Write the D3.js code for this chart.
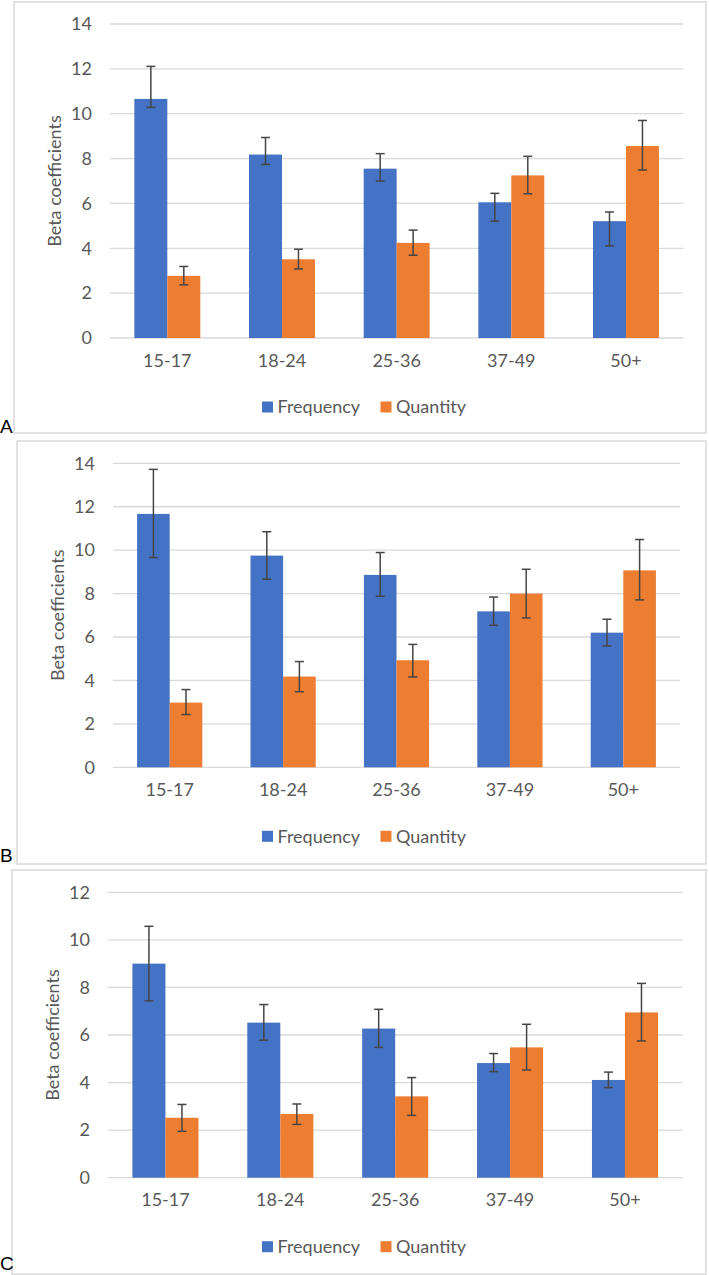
<!DOCTYPE html>
<html>
<head>
<meta charset="utf-8">
<script src="https://cdn.jsdelivr.net/npm/d3@7"></script>
<style>
  body { margin: 0; background: #fff; }
  svg { display: block; }
</style>
</head>
<body>
<script>
// categories and series names
var categories = ["15-17", "18-24", "25-36", "37-49", "50+"];
var seriesNames = ["Frequency", "Quantity"];

// y tick labels
var ticksAB = [0, 2, 4, 6, 8, 10, 12, 14];
var ticksC = [0, 2, 4, 6, 8, 10, 12];

// panel A values and error bar ends
var aFreq     = [10.66, 8.18, 7.55, 6.05, 5.21];
var aFreqLow  = [10.28, 7.74, 7.00, 5.21, 4.11];
var aFreqHigh = [12.11, 8.94, 8.22, 6.45, 5.62];
var aQty      = [2.77, 3.51, 4.24, 7.25, 8.56];
var aQtyLow   = [2.37, 3.08, 3.69, 6.43, 7.49];
var aQtyHigh  = [3.19, 3.96, 4.81, 8.10, 9.70];

// panel B
var bFreq     = [11.67, 9.75, 8.86, 7.18, 6.20];
var bFreqLow  = [9.66, 8.66, 7.88, 6.54, 5.59];
var bFreqHigh = [13.72, 10.85, 9.89, 7.84, 6.82];
var bQty      = [2.98, 4.18, 4.93, 8.00, 9.07];
var bQtyLow   = [2.43, 3.48, 4.16, 6.88, 7.71];
var bQtyHigh  = [3.58, 4.87, 5.66, 9.12, 10.49];

// panel C
var cFreq     = [9.00, 6.52, 6.27, 4.82, 4.11];
var cFreqLow  = [7.44, 5.78, 5.48, 4.46, 3.79];
var cFreqHigh = [10.57, 7.28, 7.08, 5.22, 4.44];
var cQty      = [2.52, 2.68, 3.42, 5.48, 6.95];
var cQtyLow   = [1.95, 2.24, 2.62, 4.53, 5.75];
var cQtyHigh  = [3.08, 3.10, 4.21, 6.45, 8.17];

var colors = {Frequency: "#4472C4", Quantity: "#ED7D31"};
var textColor = "#595959";
var font = "Lato, 'Open Sans', sans-serif";
var fontSize = 18;

// layout of each panel (box, plot area, label)
var panels = [
  {letter: "A", box: [14, 2, 706, 433], plot: [110, 24, 683.3, 338], ticks: ticksAB, letterY: 433,
   freq: aFreq, freqLow: aFreqLow, freqHigh: aFreqHigh, qty: aQty, qtyLow: aQtyLow, qtyHigh: aQtyHigh},
  {letter: "B", box: [17, 441, 706, 864], plot: [113, 463.3, 680, 767.3], ticks: ticksAB, letterY: 862,
   freq: bFreq, freqLow: bFreqLow, freqHigh: bFreqHigh, qty: bQty, qtyLow: bQtyLow, qtyHigh: bQtyHigh},
  {letter: "C", box: [12, 870, 706, 1274], plot: [108, 892.3, 682.4, 1177.7], ticks: ticksC, letterY: 1270,
   freq: cFreq, freqLow: cFreqLow, freqHigh: cFreqHigh, qty: cQty, qtyLow: cQtyLow, qtyHigh: cQtyHigh}
];

var svg = d3.select("body").append("svg")
    .attr("width", 709)
    .attr("height", 1275);

panels.forEach(function(p) {
  var left = p.plot[0], top = p.plot[1], right = p.plot[2], bottom = p.plot[3];
  var g = svg.append("g");

  // panel frame
  g.append("rect")
      .attr("x", p.box[0]).attr("y", p.box[1])
      .attr("width", p.box[2] - p.box[0]).attr("height", p.box[3] - p.box[1])
      .attr("fill", "none").attr("stroke", "#d9d9d9").attr("stroke-width", 1.5);

  // panel letter
  g.append("text")
      .attr("x", 0).attr("y", p.letterY)
      .attr("font-family", "'Liberation Sans', Arial, sans-serif")
      .attr("font-size", 19).attr("fill", "#000")
      .text(p.letter);

  var y = d3.scaleLinear()
      .domain([0, d3.max(p.ticks)])
      .range([bottom, top]);

  var x0 = d3.scaleBand()
      .domain(categories)
      .range([left, right])
      .paddingInner(0.425)
      .paddingOuter(0.2125);

  var x1 = d3.scaleBand()
      .domain(seriesNames)
      .range([0, x0.bandwidth()]);

  // gridlines
  g.selectAll(".grid")
      .data(p.ticks)
    .enter().append("line")
      .attr("x1", left).attr("x2", right)
      .attr("y1", function(d) { return y(d); })
      .attr("y2", function(d) { return y(d); })
      .attr("stroke", "#d9d9d9").attr("stroke-width", 1.3);

  // y axis labels
  var yAxis = g.append("g")
      .attr("transform", "translate(" + (left - 18) + ",0)")
      .call(d3.axisLeft(y).tickValues(p.ticks).tickSize(0).tickPadding(0));
  yAxis.select(".domain").remove();
  yAxis.selectAll("text")
      .attr("font-family", font).attr("font-size", fontSize).attr("fill", textColor);

  // x axis labels
  var xAxis = g.append("g")
      .attr("transform", "translate(0," + bottom + ")")
      .call(d3.axisBottom(x0).tickSize(0).tickPadding(16));
  xAxis.select(".domain").remove();
  xAxis.selectAll("text")
      .attr("font-family", font).attr("font-size", fontSize).attr("fill", textColor);

  // y title
  g.append("text")
      .attr("transform", "translate(" + (left - 55) + "," + ((top + bottom) / 2) + ") rotate(-90)")
      .attr("text-anchor", "middle")
      .attr("dy", "0.35em")
      .attr("font-family", font).attr("font-size", fontSize).attr("fill", textColor)
      .text("Beta coefficients");

  // build rows for bars
  var rows = [];
  categories.forEach(function(c, i) {
    rows.push({cat: c, s: "Frequency", v: p.freq[i], lo: p.freqLow[i], hi: p.freqHigh[i]});
    rows.push({cat: c, s: "Quantity", v: p.qty[i], lo: p.qtyLow[i], hi: p.qtyHigh[i]});
  });

  g.selectAll(".bar")
      .data(rows)
    .enter().append("rect")
      .attr("x", function(d) { return x0(d.cat) + x1(d.s); })
      .attr("y", function(d) { return y(d.v); })
      .attr("width", x1.bandwidth())
      .attr("height", function(d) { return y(0) - y(d.v); })
      .attr("fill", function(d) { return colors[d.s]; });

  // error bars
  var eb = g.selectAll(".err")
      .data(rows)
    .enter().append("g")
      .attr("stroke", "#454545").attr("stroke-width", 1.5);
  eb.append("line")
      .attr("x1", function(d) { return x0(d.cat) + x1(d.s) + x1.bandwidth() / 2; })
      .attr("x2", function(d) { return x0(d.cat) + x1(d.s) + x1.bandwidth() / 2; })
      .attr("y1", function(d) { return y(d.lo); })
      .attr("y2", function(d) { return y(d.hi); });
  ["lo", "hi"].forEach(function(k) {
    eb.append("line")
        .attr("x1", function(d) { return x0(d.cat) + x1(d.s) + x1.bandwidth() / 2 - 4.5; })
        .attr("x2", function(d) { return x0(d.cat) + x1(d.s) + x1.bandwidth() / 2 + 4.5; })
        .attr("y1", function(d) { return y(d[k]); })
        .attr("y2", function(d) { return y(d[k]); });
  });

  // legend
  var legY = bottom + 69;
  var leg = g.append("g");
  var legX = [262, 380.5];
  seriesNames.forEach(function(s, i) {
    leg.append("rect")
        .attr("x", legX[i]).attr("y", legY - 5.5)
        .attr("width", 11).attr("height", 11)
        .attr("fill", colors[s]);
    leg.append("text")
        .attr("x", legX[i] + 15.5).attr("y", legY)
        .attr("dy", "0.35em")
        .attr("font-family", font).attr("font-size", fontSize).attr("fill", textColor)
        .text(s);
  });
});
</script>
</body>
</html>
